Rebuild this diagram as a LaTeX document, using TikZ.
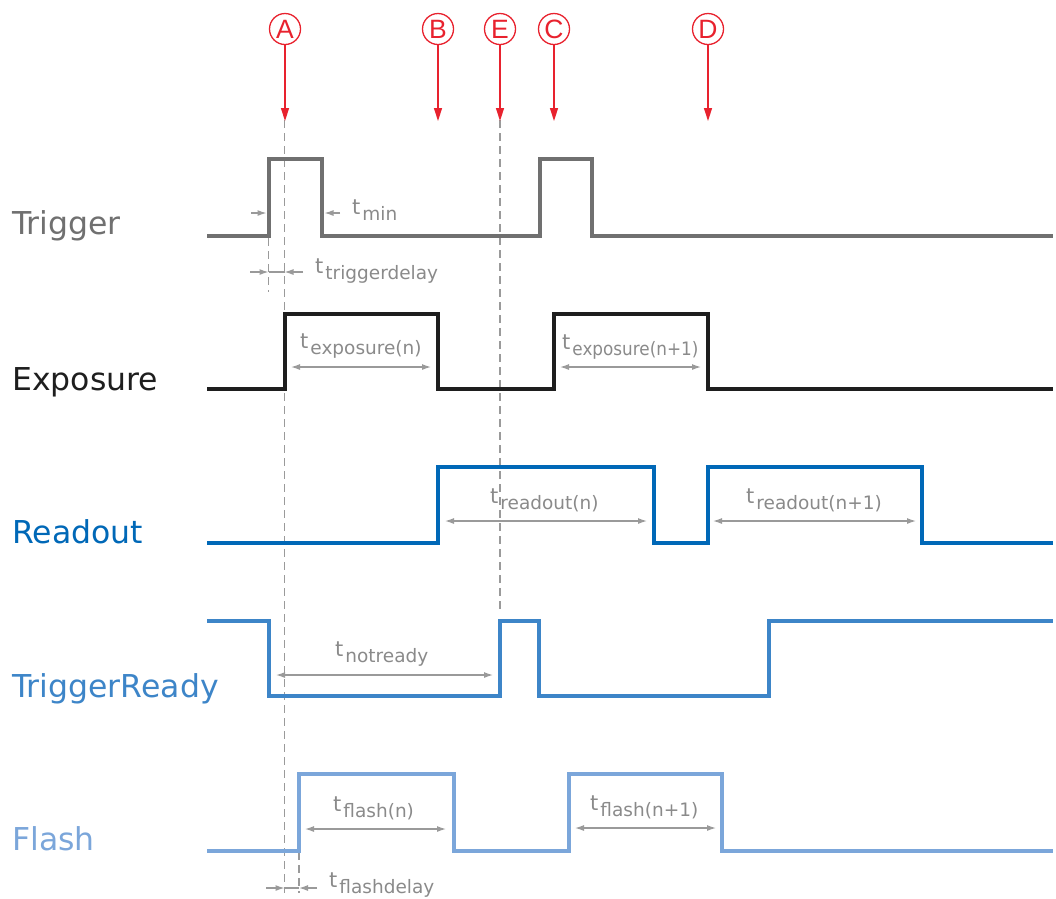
\documentclass[tikz,border=0pt]{standalone}
\usepackage{fontspec}
\setmainfont{DejaVu Sans}
\newfontfamily\markfont{Liberation Sans}
\usetikzlibrary{arrows.meta}
\definecolor{cTrig}{HTML}{707070}
\definecolor{cExp}{HTML}{1E1E1E}
\definecolor{cRead}{HTML}{0068B7}
\definecolor{cReady}{HTML}{3D85C8}
\definecolor{cFlash}{HTML}{7BA6DA}
\definecolor{cDim}{HTML}{9A9A9A}
\definecolor{cDimTxt}{HTML}{8A8A8A}
\definecolor{cRed}{HTML}{E8222E}
\newcommand\tlab[1]{{\fontsize{21}{21}\selectfont t}\kern2pt\raisebox{-6pt}{\fontsize{18.5}{18.5}\selectfont #1}}
\begin{document}
\begin{tikzpicture}[x=1pt,y=-1pt,
  sig/.style={line width=3.4pt,line join=miter},
  siglabel/.style={anchor=base west,inner sep=0pt,font=\fontsize{31.5}{31.5}\selectfont},
  dimline/.style={draw=cDim,line width=1.2pt},
  dimarr/.style={dimline,-{Latex[length=9pt,width=6pt]}},
  dimboth/.style={dimline,{Latex[length=9pt,width=6pt]}-{Latex[length=9pt,width=6pt]}},
  dashline/.style={draw=cDim,line width=1.1pt,dash pattern=on 8pt off 5pt},
  tl/.style={anchor=base west,inner sep=0pt,text=cDimTxt},
  marker/.style={circle,draw=cRed,line width=1.3pt,minimum size=31pt,inner sep=0pt,text=cRed,font=\markfont\fontsize{26.5}{26.5}\selectfont},
  markarr/.style={draw=cRed,line width=1.4pt,-{Triangle[length=13pt,width=8pt]}}
]
\useasboundingbox (0,0) rectangle (1056,898);

% dashed reference lines
\draw[dashline] (284.5,120) -- (284.5,893);
\draw[dashline] (500,120) -- (500,612);
\draw[dashline] (268.5,238) -- (268.5,292);
\draw[dashline] (299,852) -- (299,893);

% markers
\foreach \n/\x in {A/285,B/438,E/500,C/554,D/708}{
  \node[marker] (m\n) at (\x,29) {\n};
  \coordinate (t\n) at (\x,121);
  \draw[markarr] (m\n) -- (t\n);
}

% signal labels
\node[siglabel,text=cTrig] (lTrig) at (12,234) {Trigger};
\node[siglabel,text=cExp] (lExp) at (12,390) {Exposure};
\node[siglabel,text=cRead] (lRead) at (12,543) {Readout};
\node[siglabel,text=cReady] (lReady) at (12,697) {TriggerReady};
\node[siglabel,text=cFlash] (lFlash) at (12,850) {Flash};

% signals
\draw[sig,cTrig] (207,236) -- (269,236) -- (269,159) -- (322,159) -- (322,236) -- (540,236) -- (540,159) -- (592,159) -- (592,236) -- (1053,236);
\draw[sig,cExp] (207,389) -- (285,389) -- (285,314) -- (438,314) -- (438,389) -- (554,389) -- (554,314) -- (708,314) -- (708,389) -- (1053,389);
\draw[sig,cRead] (207,543) -- (438,543) -- (438,467) -- (654,467) -- (654,543) -- (708,543) -- (708,467) -- (922,467) -- (922,543) -- (1053,543);
\draw[sig,cReady] (207,621) -- (269,621) -- (269,696) -- (500,696) -- (500,621) -- (539,621) -- (539,696) -- (769,696) -- (769,621) -- (1053,621);
\draw[sig,cFlash] (207,851) -- (299,851) -- (299,774) -- (454,774) -- (454,851) -- (569,851) -- (569,774) -- (722,774) -- (722,851) -- (1053,851);

% t_min
\coordinate (tm1) at (251,213); \coordinate (tm2) at (266.5,213);
\coordinate (tm3) at (340,213); \coordinate (tm4) at (324.5,213);
\draw[dimarr] (tm1) -- (tm2);
\draw[dimarr] (tm3) -- (tm4);
\node[tl] (ltmin) at (352,214) {\tlab{min}};

% t_triggerdelay
\coordinate (td1) at (250,272); \coordinate (td2) at (268.5,272);
\coordinate (td3) at (284.5,272); \coordinate (td4) at (303,272);
\draw[dimarr] (td1) -- (td2);
\draw[dimline] (td2) -- (td3);
\draw[dimarr] (td4) -- (td3);
\node[tl] (ltd) at (315,273) {\tlab{triggerdelay}};

% exposure
\coordinate (e1) at (291,367); \coordinate (e2) at (431,367);
\draw[dimboth] (e1) -- (e2);
\node[tl] (le1) at (300,348) {\tlab{exposure(n)}};
\coordinate (e3) at (560,367); \coordinate (e4) at (701,367);
\draw[dimboth] (e3) -- (e4);
\node[tl] (le2) at (562,349) {\tlab{\scalebox{0.91}[1]{exposure(n+1)}}};

% readout
\coordinate (r1) at (445,521); \coordinate (r2) at (647,521);
\draw[dimboth] (r1) -- (r2);
\node[tl] (lr1) at (490,503) {\tlab{readout(n)}};
\coordinate (r3) at (713,521); \coordinate (r4) at (916,521);
\draw[dimboth] (r3) -- (r4);
\node[tl] (lr2) at (746,503) {\tlab{readout(n+1)}};

% notready
\coordinate (n1) at (276,675); \coordinate (n2) at (493,675);
\draw[dimboth] (n1) -- (n2);
\node[tl] (lnr) at (335,656) {\tlab{notready}};

% flash
\coordinate (f1) at (305,829); \coordinate (f2) at (446,829);
\draw[dimboth] (f1) -- (f2);
\node[tl] (lf1) at (333,811) {\tlab{flash(n)}};
\coordinate (f3) at (575,828); \coordinate (f4) at (716,828);
\draw[dimboth] (f3) -- (f4);
\node[tl] (lf2) at (590,810) {\tlab{flash(n+1)}};

% flashdelay
\coordinate (fd1) at (266,888); \coordinate (fd2) at (284.5,888);
\coordinate (fd3) at (299,888); \coordinate (fd4) at (317,888);
\draw[dimarr] (fd1) -- (fd2);
\draw[dimline] (fd2) -- (fd3);
\draw[dimarr] (fd4) -- (fd3);
\node[tl] (lfd) at (329,887) {\tlab{flashdelay}};
\end{tikzpicture}
\end{document}
